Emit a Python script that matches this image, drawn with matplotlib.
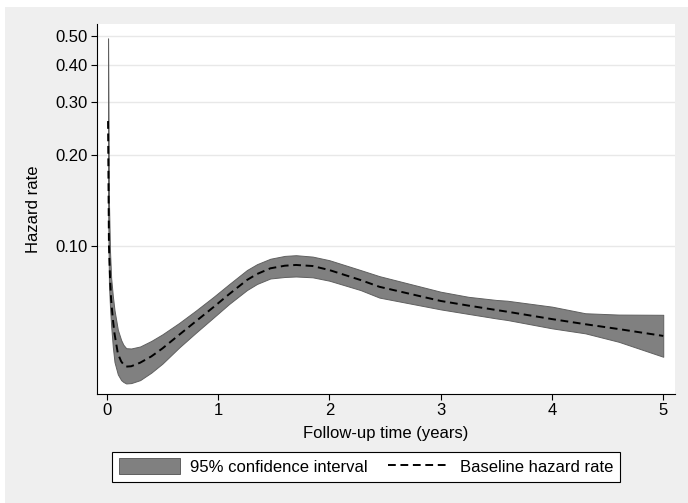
import numpy as np
import matplotlib.pyplot as plt
from matplotlib.patches import Rectangle, Patch
from matplotlib.lines import Line2D

# values
time_years = [0.012, 0.020, 0.030, 0.040, 0.055, 0.070, 0.100, 0.130, 0.150,
              0.175, 0.220, 0.300, 0.400, 0.500, 0.650, 0.800, 0.960, 1.100,
              1.260, 1.350, 1.470, 1.600, 1.700, 1.850, 2.000, 2.280, 2.450,
              3.000, 3.250, 3.500, 3.600, 4.000, 4.300, 4.600, 5.000]
hazard = [0.260, 0.100, 0.078, 0.066, 0.057, 0.051, 0.0438, 0.0412, 0.0403,
          0.0396, 0.0397, 0.0408, 0.0428, 0.0455, 0.0505, 0.0560, 0.0625, 0.0690,
          0.0769, 0.0805, 0.0841, 0.0858, 0.0863, 0.0856, 0.0830, 0.0769, 0.0730,
          0.0655, 0.0632, 0.0611, 0.0603, 0.0570, 0.0548, 0.0528, 0.0501]
ci_lower = [0.140, 0.075, 0.062, 0.054, 0.046, 0.041, 0.0373, 0.0357, 0.0352,
            0.0348, 0.0349, 0.0357, 0.0378, 0.0405, 0.0458, 0.0513, 0.0577, 0.0640,
            0.0712, 0.0746, 0.0778, 0.0787, 0.0790, 0.0785, 0.0765, 0.0712, 0.0672,
            0.0614, 0.0593, 0.0573, 0.0566, 0.0531, 0.0511, 0.0479, 0.0427]
ci_upper = [0.490, 0.140, 0.095, 0.078, 0.068, 0.061, 0.0525, 0.0485, 0.0468,
            0.0456, 0.0455, 0.0462, 0.0482, 0.0507, 0.0553, 0.0608, 0.0676, 0.0745,
            0.0830, 0.0868, 0.0905, 0.0925, 0.0930, 0.0920, 0.0895, 0.0830, 0.0792,
            0.0703, 0.0676, 0.0660, 0.0656, 0.0627, 0.0596, 0.0590, 0.0589]
y_ticks = [0.10, 0.20, 0.30, 0.40, 0.50]
x_ticks = [0, 1, 2, 3, 4, 5]

plt.rcParams["font.family"] = ["Liberation Sans", "DejaVu Sans"]
plt.rcParams["font.size"] = 12

fig = plt.figure(figsize=(6.88, 5.03), dpi=100, facecolor="white")
fig.patches.append(Rectangle((5 / 688, 0), 1, 1 - 7 / 503, transform=fig.transFigure,
                             facecolor="#efefef", edgecolor="none", zorder=-10))

ax = fig.add_axes([96.7 / 688, 109 / 503, 578 / 688, 370 / 503])
ax.set_facecolor("white")

ax.fill_between(time_years, ci_lower, ci_upper, facecolor="#808080",
                edgecolor="#606060", linewidth=0.7, zorder=2)
ax.plot(time_years, hazard, color="black", linewidth=1.4,
        linestyle=(0, (4, 2.4)), zorder=3)

ax.set_yscale("log")
ax.set_ylim(0.0321, 0.547)
ax.set_xlim(-0.09, 5.103)
ax.set_yticks(y_ticks)
ax.set_yticklabels([f"{v:.2f}" for v in y_ticks])
ax.yaxis.set_minor_locator(plt.NullLocator())
ax.set_xticks(x_ticks)
ax.set_xticklabels([str(v) for v in x_ticks])

ax.grid(axis="y", color="#e8e8e8", linewidth=1.0, zorder=0)
ax.set_axisbelow(True)

for side in ("top", "right"):
    ax.spines[side].set_visible(False)
for side in ("left", "bottom"):
    ax.spines[side].set_color("black")
    ax.spines[side].set_linewidth(0.8)
ax.tick_params(axis="both", length=4.5, width=0.8, colors="black", labelsize=12, pad=2)

ax.set_ylabel("Hazard rate", fontsize=12, labelpad=10)
ax.set_xlabel("Follow-up time (years)", fontsize=12, labelpad=6)

handles = [Patch(facecolor="#808080", edgecolor="#606060", linewidth=0.7),
           Line2D([], [], color="black", linewidth=1.4, linestyle=(0, (4, 2.4)))]
leg = fig.legend(handles, ["95% confidence interval", "Baseline hazard rate"],
                 loc="center", bbox_to_anchor=(366 / 688, 1 - 466.7 / 503),
                 ncol=2, frameon=True, fancybox=False, fontsize=12,
                 handlelength=3.7, handleheight=1.1, handletextpad=0.6,
                 columnspacing=1.2, borderpad=0.4)
leg.get_frame().set_edgecolor("black")
leg.get_frame().set_linewidth(0.8)
leg.get_frame().set_facecolor("white")
leg.get_frame().set_alpha(1)

fig.savefig("out.png", dpi=100, facecolor=fig.get_facecolor())
